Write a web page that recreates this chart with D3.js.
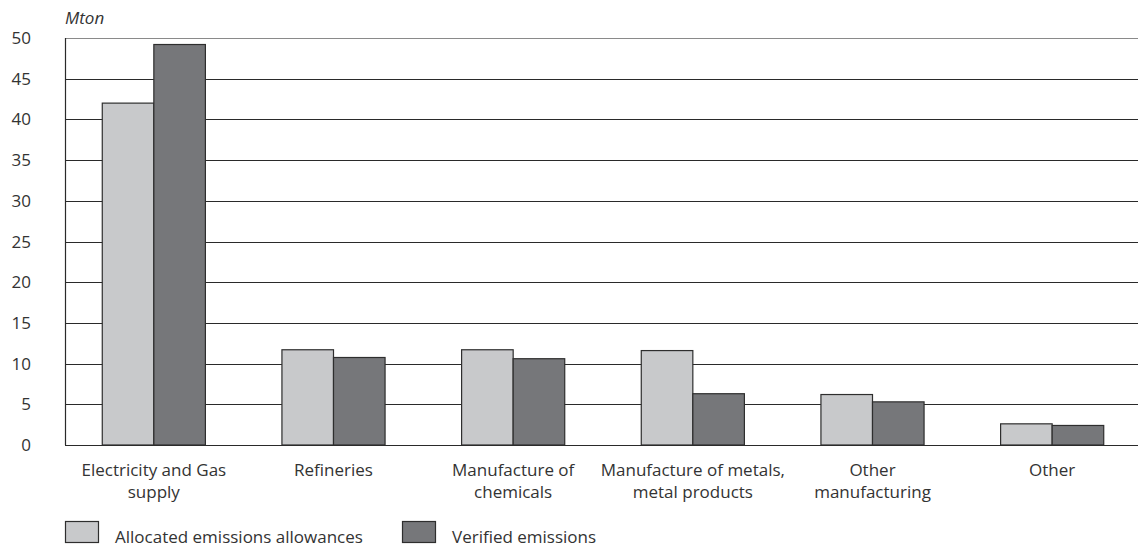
<!DOCTYPE html>
<html>
<head>
<meta charset="utf-8">
<script src="https://cdn.jsdelivr.net/npm/d3@7"></script>
<style>
  body { margin: 0; background: #fff; }
  text { font-family: "Open Sans", "Noto Sans", sans-serif; fill: #333; }
</style>
</head>
<body>
<div id="chart"></div>
<script>
var categories = [
  ["Electricity and Gas", "supply"],
  ["Refineries"],
  ["Manufacture of", "chemicals"],
  ["Manufacture of metals,", "metal products"],
  ["Other", "manufacturing"],
  ["Other"]
];
var allocated = [42.0, 11.7, 11.7, 11.6, 6.2, 2.6];
var verified = [49.2, 10.75, 10.6, 6.3, 5.3, 2.4];
var seriesNames = ["Allocated emissions allowances", "Verified emissions"];
var seriesColors = ["#c8c9cb", "#76777a"];
var yTicks = [0, 5, 10, 15, 20, 25, 30, 35, 40, 45, 50];

var width = 1138, height = 549;
var margin = {left: 65, top: 38, right: -4, bottom: 104};

var svg = d3.select("#chart").append("svg")
  .attr("width", width)
  .attr("height", height);

var x = d3.scaleBand()
  .domain(d3.range(categories.length))
  .range([margin.left - 1, width - margin.right])
  .paddingInner(0.426)
  .paddingOuter(0.213);

var x1 = d3.scaleBand()
  .domain([0, 1])
  .range([0, x.bandwidth()]);

var y = d3.scaleLinear()
  .domain([0, 50])
  .range([height - margin.bottom, margin.top]);

// gridlines
svg.append("g")
  .selectAll("line")
  .data(yTicks)
  .enter()
  .append("line")
  .attr("x1", margin.left)
  .attr("x2", width)
  .attr("y1", function(d){ return Math.round(y(d)) + 0.5; })
  .attr("y2", function(d){ return Math.round(y(d)) + 0.5; })
  .attr("stroke", function(d){ return d == 50 ? "#8a8a8a" : "#2a2a2a"; })
  .attr("stroke-width", 1.2);

// y axis line
svg.append("line")
  .attr("x1", margin.left + 0.5)
  .attr("x2", margin.left + 0.5)
  .attr("y1", y(50))
  .attr("y2", y(0))
  .attr("stroke", "#2a2a2a")
  .attr("stroke-width", 1.2);

// y tick labels
svg.append("g")
  .selectAll("text")
  .data(yTicks)
  .enter()
  .append("text")
  .attr("x", 31)
  .attr("y", function(d){ return y(d) + 6; })
  .attr("text-anchor", "end")
  .attr("font-size", "17px")
  .text(function(d){ return d; });

svg.append("text")
  .attr("x", 65)
  .attr("y", 24)
  .attr("font-size", "17px")
  .attr("font-style", "italic")
  .text("Mton");

// bars
var groups = svg.append("g")
  .selectAll("g")
  .data(categories)
  .enter()
  .append("g")
  .attr("transform", function(d, i){ return "translate(" + x(i) + ",0)"; });

groups.selectAll("rect")
  .data(function(d, i){ return [allocated[i], verified[i]]; })
  .enter()
  .append("rect")
  .attr("x", function(d, j){ return x1(j); })
  .attr("y", function(d){ return y(d); })
  .attr("width", x1.bandwidth())
  .attr("height", function(d){ return y(0) - y(d); })
  .attr("fill", function(d, j){ return seriesColors[j]; })
  .attr("stroke", "#2e2e2e")
  .attr("stroke-width", 1.2);

// category labels
groups.append("text")
  .attr("x", x.bandwidth() / 2)
  .attr("text-anchor", "middle")
  .attr("font-size", "17px")
  .selectAll("tspan")
  .data(function(d){ return d; })
  .enter()
  .append("tspan")
  .attr("x", x.bandwidth() / 2)
  .attr("y", function(d, k){ return 476 + k * 22; })
  .text(function(d){ return d; });

// legend
var legendX = [65, 402];
var legend = svg.append("g")
  .selectAll("g")
  .data(seriesNames)
  .enter()
  .append("g")
  .attr("transform", function(d, i){ return "translate(" + legendX[i] + ",521)"; });

legend.append("rect")
  .attr("x", 0.5)
  .attr("y", 0.5)
  .attr("width", 33)
  .attr("height", 21)
  .attr("fill", function(d, i){ return seriesColors[i]; })
  .attr("stroke", "#2e2e2e")
  .attr("stroke-width", 1.2);

legend.append("text")
  .attr("x", 50)
  .attr("y", 22)
  .attr("font-size", "17px")
  .text(function(d){ return d; });
</script>
</body>
</html>
